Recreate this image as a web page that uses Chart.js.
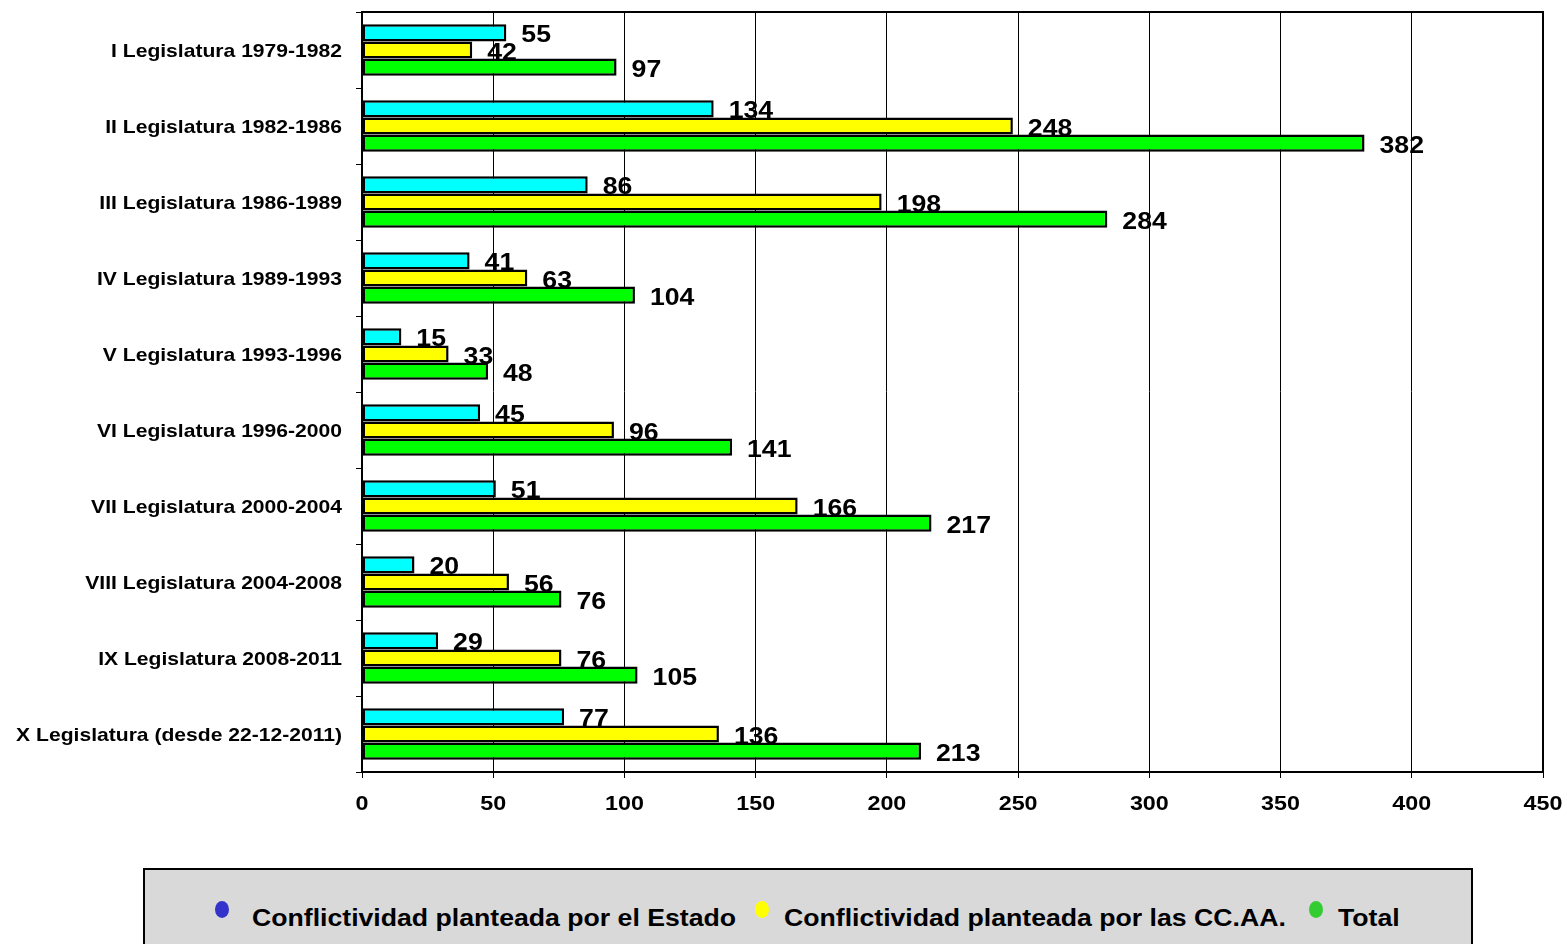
<!DOCTYPE html>
<html>
<head>
<meta charset="utf-8">
<script src="https://cdn.jsdelivr.net/npm/chart.js@4.4.1/dist/chart.umd.min.js"></script>
<style>
  html, body { margin: 0; padding: 0; background: #fff; }
  body { width: 1567px; height: 944px; position: relative; overflow: hidden;
         font-family: 'Liberation Sans', Arial, sans-serif; }
  #wrap { position: absolute; left: 0; top: 0; width: 1567px; height: 840px; }
  #legend { position: absolute; left: 143px; top: 868px; width: 1326px; height: 90px;
            background: #d9d9d9; border: 2px solid #000; }
  .item { position: absolute; top: 34px; font-weight: bold; font-size: 24px; color: #000;
          white-space: nowrap; transform: scaleX(1.11); transform-origin: left center; }
  .dot { position: absolute; width: 14px; height: 17px; border-radius: 50%; }
</style>
</head>
<body>
<div id="wrap"><canvas id="chart"></canvas></div>
<div id="legend"></div>
<script>
// ---- data ----
const categories = [
  'I Legislatura 1979-1982',
  'II Legislatura 1982-1986',
  'III Legislatura 1986-1989',
  'IV Legislatura 1989-1993',
  'V Legislatura 1993-1996',
  'VI Legislatura 1996-2000',
  'VII Legislatura 2000-2004',
  'VIII Legislatura 2004-2008',
  'IX Legislatura 2008-2011',
  'X Legislatura (desde 22-12-2011)'
];
const estado = [55, 134, 86, 41, 15, 45, 51, 20, 29, 77];
const ccaa   = [42, 248, 198, 63, 33, 96, 166, 56, 76, 136];
const total  = [97, 382, 284, 104, 48, 141, 217, 76, 105, 213];
const seriesNames = [
  'Conflictividad planteada por el Estado',
  'Conflictividad planteada por las CC.AA.',
  'Total'
];
const xTicks = [0, 50, 100, 150, 200, 250, 300, 350, 400, 450];

const FONT = "'Liberation Sans', Arial, sans-serif";
const STRETCH = 1.11;   // the original text is a bit wider than Arial

function wideText(ctx, text, x, y) {
  ctx.save();
  ctx.translate(x, y);
  ctx.scale(STRETCH, 1);
  ctx.fillText(text, 0, 0);
  ctx.restore();
}

// axis labels + value labels, drawn from the chart's scales
const texts = {
  id: 'texts',
  afterDraw(chart) {
    const ctx = chart.ctx;
    const xs = chart.scales.x, ys = chart.scales.y;
    ctx.save();
    ctx.fillStyle = '#000';
    ctx.textBaseline = 'middle';

    ctx.font = 'bold 19px ' + FONT;
    ctx.textAlign = 'right';
    ys.ticks.forEach((t, i) => {
      wideText(ctx, ys.getLabelForValue(t.value), ys.right - 20, ys.getPixelForTick(i) + 2);
    });

    ctx.font = 'bold 21px ' + FONT;
    ctx.textAlign = 'center';
    xs.ticks.forEach(t => {
      wideText(ctx, String(t.value), xs.getPixelForValue(t.value), xs.top + 32);
    });

    ctx.font = 'bold 24px ' + FONT;
    ctx.textAlign = 'left';
    chart.data.datasets.forEach((ds, i) => {
      chart.getDatasetMeta(i).data.forEach((bar, j) => {
        wideText(ctx, String(ds.data[j]), bar.x + 15, bar.y + 3);
      });
    });
    ctx.restore();
  }
};

// top + right frame of plot area
const frame = {
  id: 'frame',
  afterDraw(chart) {
    const { ctx, chartArea: a } = chart;
    ctx.save();
    ctx.strokeStyle = '#000';
    ctx.lineWidth = 2;
    ctx.beginPath();
    ctx.moveTo(a.left, a.top);
    ctx.lineTo(a.right, a.top);
    ctx.lineTo(a.right, a.bottom);
    ctx.stroke();
    ctx.restore();
  }
};

const mkSet = (label, data, color) => ({
  label, data,
  backgroundColor: color,
  borderColor: '#000',
  borderWidth: 2.5,
  borderSkipped: false,
  categoryPercentage: 0.68,
  barPercentage: 1.0
});

new Chart(document.getElementById('chart'), {
  type: 'bar',
  data: {
    labels: categories,
    datasets: [
      mkSet(seriesNames[0], estado, '#00ffff'),
      mkSet(seriesNames[1], ccaa, '#ffff00'),
      mkSet(seriesNames[2], total, '#00ff00')
    ]
  },
  options: {
    indexAxis: 'y',
    responsive: true,
    maintainAspectRatio: false,
    animation: false,
    layout: { padding: { top: 12, right: 24, left: 0, bottom: 0 } },
    plugins: { legend: { display: false }, tooltip: { enabled: false } },
    scales: {
      x: {
        min: 0, max: 450,
        afterBuildTicks: s => { s.ticks = xTicks.map(v => ({ value: v })); },
        afterFit: s => { s.height = 68; },
        grid: { color: '#000', lineWidth: 1, tickLength: 6, tickColor: '#000' },
        border: { color: '#000', width: 2 },
        ticks: { display: false }
      },
      y: {
        afterFit: s => { s.width = 362; },
        grid: { drawOnChartArea: false, tickLength: 6, color: '#000', offset: true },
        border: { color: '#000', width: 2 },
        ticks: { display: false }
      }
    }
  },
  plugins: [texts, frame]
});

// legend
const legendEl = document.getElementById('legend');
const dotColors = ['#3333cc', '#ffff00', '#33cc33'];
const dotX = [70, 610, 1164];
const textX = [107, 639, 1193];
seriesNames.forEach((name, i) => {
  const d = document.createElement('div');
  d.className = 'dot';
  d.style.left = dotX[i] + 'px';
  d.style.top = '31px';
  d.style.background = dotColors[i];
  legendEl.appendChild(d);
  const t = document.createElement('div');
  t.className = 'item';
  t.style.left = textX[i] + 'px';
  t.textContent = name;
  legendEl.appendChild(t);
});
</script>
</body>
</html>
